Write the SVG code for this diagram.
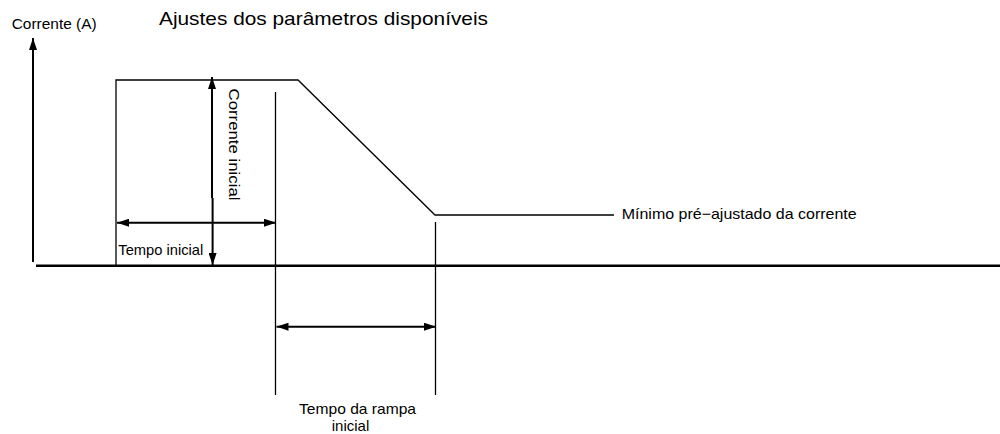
<svg xmlns="http://www.w3.org/2000/svg" width="1000" height="434" viewBox="0 0 1000 434">
<style>
  text { font-family: "Liberation Sans", Arial, sans-serif; fill: #000; }
  .lbl { font-size: 15px; }
  .title { font-size: 19px; }
  .thin { stroke: #000; stroke-width: 1.3; fill: none; }
  .dim { stroke: #000; stroke-width: 2; fill: none; }
  .axis { stroke: #000; stroke-width: 2.5; fill: none; }
</style>
<defs>
  <marker id="ah" viewBox="0 0 12 8" refX="12" refY="4" markerWidth="12" markerHeight="8" markerUnits="userSpaceOnUse" orient="auto-start-reverse">
    <path d="M0,0 L12,4 L0,8 Z" fill="#000"/>
  </marker>
</defs>
<rect width="1000" height="434" fill="#fff"/>

<g id="title">
  <text class="title" x="159" y="25" textLength="329" lengthAdjust="spacingAndGlyphs">Ajustes dos parâmetros disponíveis</text>
</g>

<g id="axes">
  <line class="dim" x1="33" y1="262" x2="33" y2="38" marker-end="url(#ah)"/>
  <line class="axis" x1="36" y1="265.7" x2="1000" y2="265.7"/>
  <text class="lbl" x="11.7" y="28.5" textLength="85" lengthAdjust="spacingAndGlyphs">Corrente (A)</text>
</g>

<g id="waveform">
  <polyline class="thin" points="116,265 116,80 298,80 435,215 614,215"/>
  <text class="lbl" x="621.7" y="218.5" textLength="235" lengthAdjust="spacingAndGlyphs">Mínimo pré−ajustado da corrente</text>
</g>

<g id="guides">
  <line class="thin" x1="275.5" y1="92" x2="275.5" y2="395"/>
  <line class="thin" x1="435.5" y1="222" x2="435.5" y2="395"/>
</g>

<g id="connectors">
  <line class="dim" x1="212" y1="198" x2="212" y2="77" marker-end="url(#ah)"/>
  <line class="dim" x1="212.6" y1="198" x2="212.6" y2="265" marker-end="url(#ah)"/>
  <line class="dim" x1="117" y1="222.7" x2="276" y2="222.7" marker-start="url(#ah)" marker-end="url(#ah)"/>
  <line class="dim" x1="276.5" y1="326.7" x2="436" y2="326.7" marker-start="url(#ah)" marker-end="url(#ah)"/>
</g>

<g id="label-corrente-inicial">
  <text class="lbl" transform="translate(228.5,88.5) rotate(90)" x="0" y="0" textLength="112" lengthAdjust="spacingAndGlyphs">Corrente inicial</text>
</g>

<g id="label-tempo-inicial">
  <text class="lbl" x="118.3" y="255" textLength="85" lengthAdjust="spacingAndGlyphs">Tempo inicial</text>
</g>

<g id="label-tempo-rampa">
  <text class="lbl" x="357.5" y="414" textLength="117" lengthAdjust="spacingAndGlyphs" text-anchor="middle">Tempo da rampa</text>
  <text class="lbl" x="350.5" y="431" text-anchor="middle">inicial</text>
</g>
</svg>
